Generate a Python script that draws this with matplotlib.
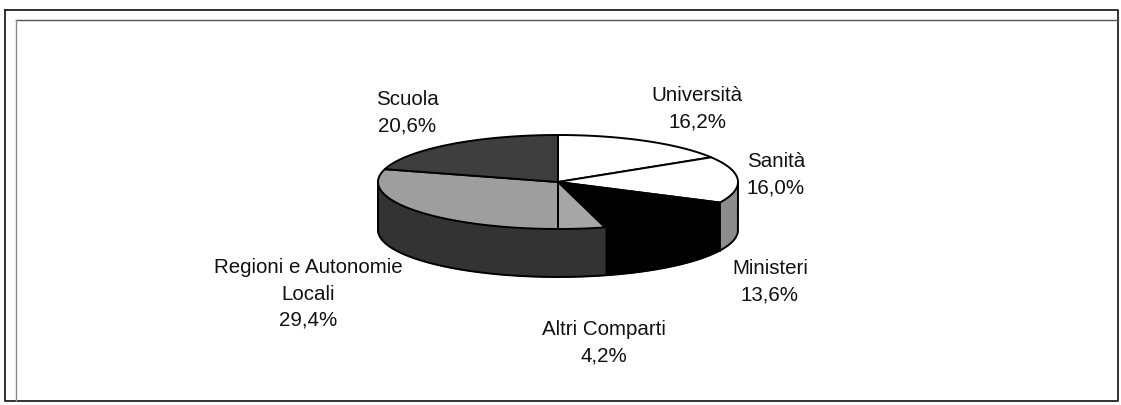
import numpy as np
import matplotlib
matplotlib.use("Agg")
import matplotlib.pyplot as plt
from matplotlib.patches import Polygon

# dati (percentuali, in senso orario dalle ore 12)
comparti = ["Università", "Sanità", "Ministeri", "Altri Comparti",
            "Regioni e Autonomie\nLocali", "Scuola"]
quote = [16.2, 16.0, 13.6, 4.2, 29.4, 20.6]
etichette = ["16,2%", "16,0%", "13,6%", "4,2%", "29,4%", "20,6%"]

# stile
top_col = ["#ffffff", "#ffffff", "#000000", "#a6a6a6", "#9e9e9e", "#3e3e3e"]
side_col = ["#8c8c8c", "#8c8c8c", "#000000", "#333333", "#333333", "#2a2a2a"]
label_pos = [(697, 109), (776, 175), (770, 282), (604, 343), (308, 294), (407, 113)]

plt.rcParams['font.family'] = ['Liberation Sans', 'DejaVu Sans']

fig = plt.figure(figsize=(11.21, 4.05), dpi=100)
ax = fig.add_axes([0, 0, 1, 1])
ax.set_xlim(0, 1121)
ax.set_ylim(405, 0)
ax.axis("off")

# geometria della torta 3D
cx, cy = 558, 182
a, b = 180, 47
depth = 48


def pt(theta, dy=0):
    t = np.radians(theta)
    return cx + a * np.sin(t), cy - b * np.cos(t) + dy


def arc(t0, t1, dy=0):
    ts = np.linspace(t0, t1, max(int(abs(t1 - t0) * 2), 2))
    return [pt(t, dy) for t in ts]


tot = sum(quote)
bordi = np.concatenate([[0], np.cumsum(quote) / tot * 360])

# pareti laterali (solo la parte frontale, 90..270 gradi)
for i in range(len(quote)):
    t0, t1 = max(bordi[i], 90), min(bordi[i + 1], 270)
    if t1 <= t0:
        continue
    pts = arc(t0, t1) + arc(t0, t1, depth)[::-1]
    ax.add_patch(Polygon(pts, closed=True, facecolor=side_col[i],
                         edgecolor=side_col[i], lw=0.8))

# linea tra Sanità e Ministeri sulla parete
x1, y1 = pt(bordi[2])
ax.plot([x1, x1], [y1, y1 + depth], color="black", lw=1.2)
# contorno della parete
contorno = [pt(90)] + arc(90, 270, depth) + [pt(270)]
ax.plot([p[0] for p in contorno], [p[1] for p in contorno], color="black", lw=1.4)

# facce superiori
for i in range(len(quote)):
    pts = [(cx, cy)] + arc(bordi[i], bordi[i + 1])
    ax.add_patch(Polygon(pts, closed=True, facecolor=top_col[i],
                         edgecolor="black", lw=1.4, joinstyle="round"))

# etichette
for nome, val, (x, y) in zip(comparti, etichette, label_pos):
    ax.text(x, y, nome + "\n" + val, ha="center", va="center",
            fontsize=14.8, linespacing=1.5, color="#111111")

# cornice
ax.plot([5, 1118, 1118, 5, 5], [10, 10, 401, 401, 10], color="#222222", lw=1.3)
ax.plot([16, 1118], [20, 20], color="#555555", lw=1.0)
ax.plot([16, 16], [20, 401], color="#888888", lw=1.0)

fig.savefig("out.png", dpi=100)
